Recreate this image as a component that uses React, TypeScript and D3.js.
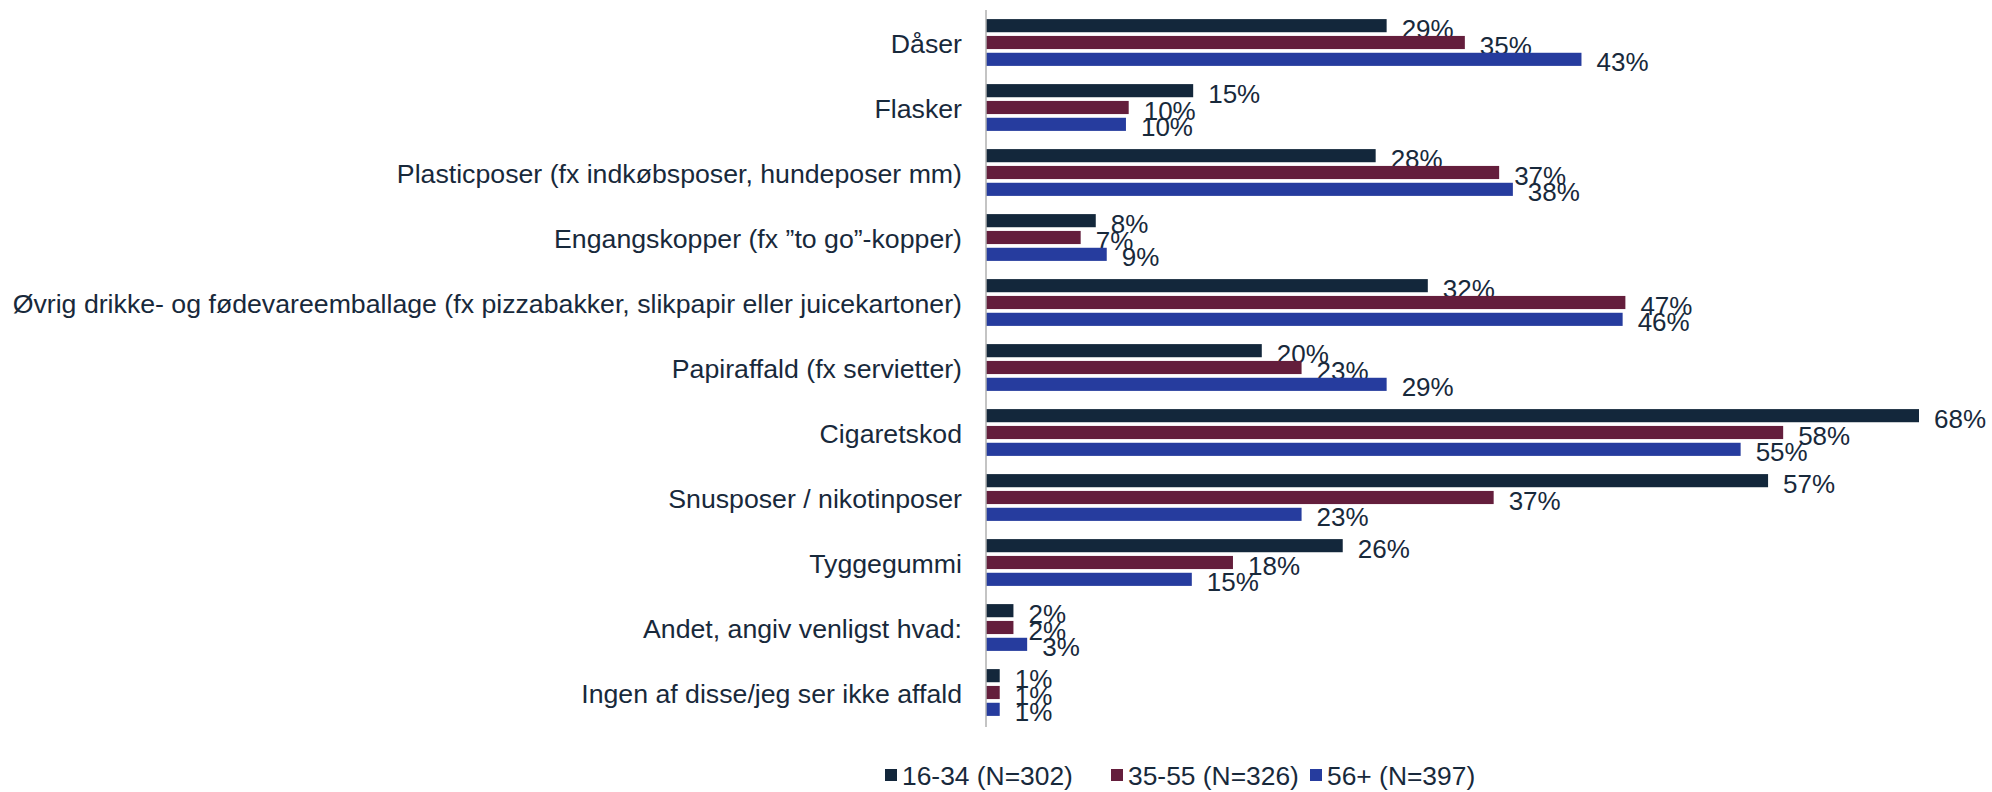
import React from "react";
import * as d3 from "d3";

const categories = [
  "Dåser",
  "Flasker",
  "Plasticposer (fx indkøbsposer, hundeposer mm)",
  "Engangskopper (fx ”to go”-kopper)",
  "Øvrig drikke- og fødevareemballage (fx pizzabakker, slikpapir eller juicekartoner)",
  "Papiraffald (fx servietter)",
  "Cigaretskod",
  "Snusposer / nikotinposer",
  "Tyggegummi",
  "Andet, angiv venligst hvad:",
  "Ingen af disse/jeg ser ikke affald",
];

const seriesNames = ["16-34 (N=302)", "35-55 (N=326)", "56+ (N=397)"];
// bar lengths; labels are the rounded values
const young = [29.2, 15.1, 28.4, 8, 32.2, 20.1, 68, 57, 26, 2, 1];
const middle = [34.9, 10.4, 37.4, 6.9, 46.6, 23, 58.1, 37, 18, 2, 1];
const older = [43.4, 10.2, 38.4, 8.8, 46.4, 29.2, 55, 23, 15, 3, 1];
const colors = ["#13273b", "#641e3c", "#263c9e"];

const W = 1992;
const H = 792;
const textColor = "#18293b";
const font = "'Liberation Sans', Arial, sans-serif";

export default function App() {
  const series = [young, middle, older];
  const x = d3.scaleLinear().domain([0, 68]).range([986, 1919]);
  const y = d3.scaleBand().domain(categories).range([10, 725]).paddingInner(0.28).paddingOuter(0.14);
  const inner = d3.scaleBand().domain(seriesNames).range([0, y.bandwidth()]).paddingInner(0.22);

  const legendX = [885, 1111, 1310];

  return (
    <svg width={W} height={H} style={{ position: "absolute", left: 0, top: 0, background: "#fff" }}>
      {categories.map((c) => (
        <text key={c} x={962} y={(y(c) ?? 0) + y.bandwidth() / 2 + 1} textAnchor="end" dominantBaseline="central"
          fontFamily={font} fontSize={26.7} fill={textColor}>{c}</text>
      ))}
      {series.map((vals, si) => (
        <g key={si}>
          {vals.map((v, i) => {
            const by = (y(categories[i]) ?? 0) + (inner(seriesNames[si]) ?? 0);
            return (
              <g key={i}>
                <rect x={x(0)} y={by} width={x(v) - x(0)} height={inner.bandwidth()} fill={colors[si]} />
                <text x={x(v) + 15} y={by + inner.bandwidth() / 2 + 3} dominantBaseline="central"
                  fontFamily={font} fontSize={26} fill={textColor}>{Math.round(v)}%</text>
              </g>
            );
          })}
        </g>
      ))}
      <line x1={x(0)} x2={x(0)} y1={10} y2={727} stroke="#b0b0b0" strokeWidth={1.5} />
      {seriesNames.map((s, i) => (
        <g key={s}>
          <rect x={legendX[i]} y={769} width={12} height={12} fill={colors[i]} />
          <text x={legendX[i] + 17} y={776} dominantBaseline="central" fontFamily={font} fontSize={26.4} fill={textColor}>{s}</text>
        </g>
      ))}
    </svg>
  );
}
